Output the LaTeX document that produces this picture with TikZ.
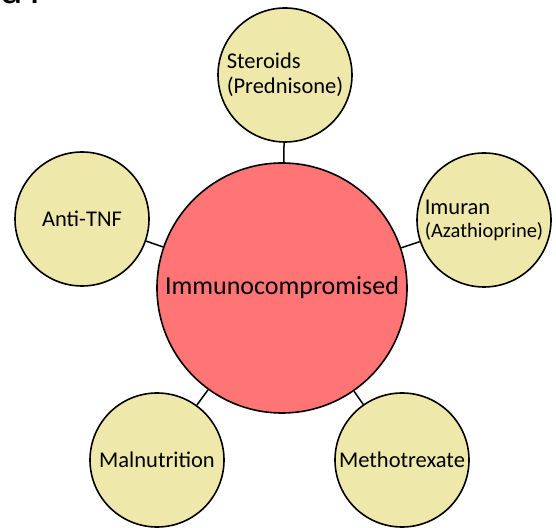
\documentclass[tikz,border=0pt]{standalone}
\usepackage{fontspec}
\setmainfont{Carlito}
\newfontfamily\capfont{Liberation Sans}
\usepackage{xcolor}
\usepackage{tikz}
\definecolor{bubfill}{RGB}{238,232,170}
\definecolor{hubfill}{RGB}{255,117,117}
\tikzset{
  hub/.style={circle,draw=black,line width=1.6pt,fill=hubfill,minimum size=250pt,inner sep=0pt,font=\fontsize{26}{30}\selectfont},
  bub/.style={circle,draw=black,line width=1.6pt,fill=bubfill,minimum size=134pt,inner sep=0pt,font=\fontsize{22.5}{28}\selectfont},
  link/.style={draw=black,line width=1.5pt}}
\newcommand{\ibub}[3]{%
  \node[bub] (#1) at (#2) {#3};
  \draw[link] (hub) -- (#1);}

\begin{document}
\begin{tikzpicture}[x=1pt,y=1pt]
    \useasboundingbox (0,0) rectangle (556,527);
    \node[font=\capfont\fontsize{40}{44}\selectfont,anchor=base west] (cut) at (-3,523.5) {d\,.};
    \node[hub] (hub) at (282,239) {Immunocompromised};
    \ibub{ster}{285,452}{\raisebox{5pt}{\begin{tabular}{@{}l@{}}Steroids\\[-3pt](Prednisone)\end{tabular}}}
    \ibub{imur}{484,307}{\raisebox{-10pt}{\begin{tabular}{@{}l@{}}Imuran\\[-5pt]{\fontsize{20.5}{24}\selectfont(Azathioprine)}\end{tabular}}}
    \ibub{anti}{82,308}{Anti-TNF}
    \ibub{maln}{157,67}{Malnutrition}
    \ibub{meth}{402,67}{Methotrexate}
  \end{tikzpicture}
\end{document}
